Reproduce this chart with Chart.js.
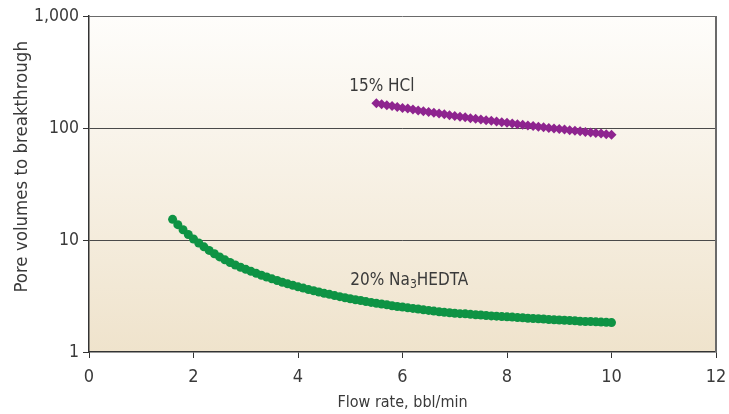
<!DOCTYPE html>
<html>
<head>
<meta charset="utf-8">
<script src="https://cdn.jsdelivr.net/npm/chart.js@4/dist/chart.umd.min.js"></script>
<style>
  html, body { margin: 0; padding: 0; background: #ffffff; }
  #wrap { width: 729px; height: 414px; }
</style>
</head>
<body>
<div id="wrap"><canvas id="grafica" width="729" height="414"></canvas></div>
<script>
// flow rate (bbl/min) for each measured point
const hedtaX = [1.6, 1.7, 1.8, 1.9, 2.0, 2.1, 2.2, 2.3, 2.4, 2.5, 2.6, 2.7, 2.8, 2.9,
  3.0, 3.1, 3.2, 3.3, 3.4, 3.5, 3.6, 3.7, 3.8, 3.9, 4.0, 4.1, 4.2, 4.3, 4.4, 4.5,
  4.6, 4.7, 4.8, 4.9, 5.0, 5.1, 5.2, 5.3, 5.4, 5.5, 5.6, 5.7, 5.8, 5.9, 6.0, 6.1,
  6.2, 6.3, 6.4, 6.5, 6.6, 6.7, 6.8, 6.9, 7.0, 7.1, 7.2, 7.3, 7.4, 7.5, 7.6, 7.7,
  7.8, 7.9, 8.0, 8.1, 8.2, 8.3, 8.4, 8.5, 8.6, 8.7, 8.8, 8.9, 9.0, 9.1, 9.2, 9.3,
  9.4, 9.5, 9.6, 9.7, 9.8, 9.9, 10.0];
// pore volumes to breakthrough, 20% Na3HEDTA
const hedtaPV = [15.3, 13.7, 12.36, 11.19, 10.21, 9.40, 8.69, 8.07, 7.53, 7.06, 6.65, 6.30, 5.98, 5.71,
  5.47, 5.25, 5.04, 4.84, 4.67, 4.50, 4.35, 4.20, 4.06, 3.94, 3.82, 3.72, 3.61, 3.52, 3.43, 3.34,
  3.27, 3.19, 3.12, 3.05, 2.99, 2.93, 2.88, 2.82, 2.77, 2.72, 2.68, 2.64, 2.59, 2.55, 2.52, 2.48,
  2.45, 2.42, 2.38, 2.35, 2.32, 2.29, 2.26, 2.24, 2.22, 2.20, 2.19, 2.17, 2.15, 2.14, 2.12, 2.10,
  2.09, 2.07, 2.06, 2.05, 2.03, 2.02, 2.00, 1.99, 1.98, 1.97, 1.95, 1.94, 1.93, 1.92, 1.91, 1.90,
  1.88, 1.87, 1.87, 1.86, 1.85, 1.84, 1.83];

const hclX = [5.5, 5.6, 5.7, 5.8, 5.9, 6.0, 6.1, 6.2, 6.3, 6.4, 6.5, 6.6, 6.7, 6.8, 6.9,
  7.0, 7.1, 7.2, 7.3, 7.4, 7.5, 7.6, 7.7, 7.8, 7.9, 8.0, 8.1, 8.2, 8.3, 8.4, 8.5,
  8.6, 8.7, 8.8, 8.9, 9.0, 9.1, 9.2, 9.3, 9.4, 9.5, 9.6, 9.7, 9.8, 9.9, 10.0];
// pore volumes to breakthrough, 15% HCl
const hclPV = [166, 163, 160, 157, 154, 151, 149, 146, 143.5, 141, 139, 137, 134.6, 132.4, 130.3,
  128.2, 126.2, 124.5, 122.5, 120.8, 119.1, 117.5, 115.9, 114.3, 112.7, 111.2, 109.6, 108.1, 106.7, 105.4, 104,
  102.8, 101.4, 100.2, 99.1, 97.9, 96.8, 95.5, 94.4, 93.3, 92.3, 91.2, 90.2, 89.1, 88.1, 87.1];

const yTicks = [1, 10, 100, 1000];
const xTicks = [0, 2, 4, 6, 8, 10, 12];

// label anchors in data units (left edge, vertical middle)
const hclLabel = { x: 4.98, y: 232 };
const hedtaLabel = { x: 5.0, y: 4.3 };
const yTitle = 'Pore volumes to breakthrough';

const FONT = "'DejaVu Sans Condensed', 'Liberation Sans Narrow', Roboto, sans-serif";
const TXT = '#3a3a3a';

const toPts = (xs, ys) => xs.map((x, i) => ({ x: x, y: ys[i] }));

const bgPlugin = {
  id: 'bg',
  beforeDraw(chart) {
    const { ctx, chartArea: a } = chart;
    const g = ctx.createLinearGradient(0, a.top, 0, a.bottom);
    g.addColorStop(0, '#fefdfb');
    g.addColorStop(1, '#efe3cc');
    ctx.save();
    ctx.fillStyle = g;
    ctx.fillRect(a.left, a.top, a.right - a.left, a.bottom - a.top);
    ctx.restore();
  },
  afterDraw(chart) {
    const { ctx, chartArea: a, scales } = chart;
    ctx.save();
    // top + right frame
    ctx.strokeStyle = '#6a6a6a';
    ctx.lineWidth = 1;
    ctx.beginPath();
    ctx.moveTo(a.left, a.top + 0.5);
    ctx.lineTo(a.right, a.top + 0.5);
    ctx.stroke();
    ctx.lineWidth = 2;
    ctx.beginPath();
    ctx.moveTo(a.right, a.top);
    ctx.lineTo(a.right, a.bottom);
    ctx.stroke();

    // y axis title, sits a bit above the middle of the axis
    ctx.fillStyle = TXT;
    ctx.save();
    ctx.translate(22, scales.y.getPixelForValue(45));
    ctx.rotate(-Math.PI / 2);
    ctx.textAlign = 'center';
    ctx.textBaseline = 'middle';
    ctx.font = '18.5px ' + FONT;
    ctx.fillText(yTitle, 0, 0);
    ctx.restore();

    // series labels
    ctx.textBaseline = 'middle';
    ctx.textAlign = 'left';
    ctx.font = '17px ' + FONT;
    let px = scales.x.getPixelForValue(hclLabel.x);
    let py = scales.y.getPixelForValue(hclLabel.y);
    ctx.fillText('15% HCl', px, py);

    px = scales.x.getPixelForValue(hedtaLabel.x);
    py = scales.y.getPixelForValue(hedtaLabel.y);
    const a1 = '20% Na';
    ctx.fillText(a1, px, py);
    px += ctx.measureText(a1).width;
    ctx.font = '12px ' + FONT;
    ctx.fillText('3', px, py + 4);
    px += ctx.measureText('3').width;
    ctx.font = '17px ' + FONT;
    ctx.fillText('HEDTA', px, py);
    ctx.restore();
  }
};

const data = {
  datasets: [{
    label: '15% HCl',
    data: toPts(hclX, hclPV),
    showLine: false,
    pointStyle: 'rectRot',
    pointRadius: 5,
    pointBackgroundColor: '#8e248f',
    pointBorderColor: '#8e248f',
    pointBorderWidth: 0
  }, {
    label: '20% Na3HEDTA',
    data: toPts(hedtaX, hedtaPV),
    showLine: false,
    pointStyle: 'circle',
    pointRadius: 4.5,
    pointBackgroundColor: '#0e9344',
    pointBorderColor: '#0e9344',
    pointBorderWidth: 0
  }]
};

const config = {
  type: 'scatter',
  data: data,
  plugins: [bgPlugin],
  options: {
    responsive: false,
    animation: false,
    layout: { padding: { top: 16, right: 13, left: 0, bottom: 0 } },
    plugins: {
      legend: { display: false },
      tooltip: { enabled: false }
    },
    scales: {
      x: {
        type: 'linear',
        min: 0,
        max: 12,
        afterBuildTicks: (s) => { s.ticks = xTicks.map(v => ({ value: v })); },
        afterFit: (s) => { s.height = 62; s.paddingLeft = 0; s.paddingRight = 0; },
        grid: {
          drawOnChartArea: false,
          drawTicks: true,
          tickLength: 6,
          tickColor: '#333'
        },
        border: { color: '#333', width: 1.5 },
        ticks: {
          color: TXT,
          padding: 9,
          font: { family: FONT, size: 18 }
        },
        title: {
          display: true,
          text: 'Flow rate, bbl/min',
          color: TXT,
          font: { family: FONT, size: 16 },
          padding: { top: 0, bottom: 2 }
        }
      },
      y: {
        type: 'logarithmic',
        min: 1,
        max: 1000,
        afterBuildTicks: (s) => { s.ticks = yTicks.map(v => ({ value: v })); },
        afterFit: (s) => { s.width = 89; s.paddingTop = 0; s.paddingBottom = 0; },
        grid: {
          color: (c) => (c.tick && (c.tick.value === 10 || c.tick.value === 100)) ? '#4a4a4a' : 'rgba(0,0,0,0)',
          lineWidth: 1,
          drawTicks: true,
          tickLength: 6,
          tickColor: '#333'
        },
        border: { color: '#333', width: 1.5 },
        ticks: {
          color: TXT,
          padding: 4,
          font: { family: FONT, size: 17.5 },
          callback: (v) => v.toLocaleString('en-US')
        },
        title: { display: false }
      }
    }
  }
};

new Chart(document.getElementById('grafica'), config);
</script>
</body>
</html>
